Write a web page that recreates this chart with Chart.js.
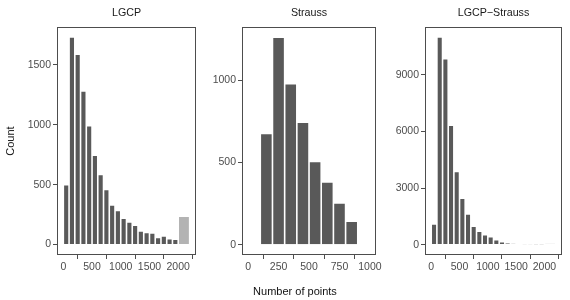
<!DOCTYPE html>
<html><head><meta charset="utf-8">
<script src="https://cdn.jsdelivr.net/npm/chart.js@4/dist/chart.umd.min.js"></script>
<style>
html,body{margin:0;padding:0;background:#fff}
body{width:570px;height:300px;position:relative;overflow:hidden;font-family:"Liberation Sans",Arial,sans-serif}
canvas{position:absolute;top:0}
.lab{position:absolute;font-size:11px;font-weight:400;color:#111;white-space:nowrap;line-height:12px;height:12px;text-align:center}
</style></head><body>
<canvas id="c1" width="200" height="300" style="left:0px"></canvas>
<canvas id="c2" width="184" height="300" style="left:200px"></canvas>
<canvas id="c3" width="186" height="300" style="left:384px"></canvas>
<div class="lab" id="xlab" style="left:235px;top:285px;width:120px">Number of points</div>
<div class="lab" id="ylab" style="left:-20px;top:135px;width:60px;transform:rotate(-90deg)">Count</div>
<script>
// ---- data ----
const panelTitles = ["LGCP", "Strauss", "LGCP\u2212Strauss"];

// bin centres (bin width 100)
const lgcpBins = [50,150,250,350,450,550,650,750,850,950,1050,1150,1250,1350,1450,1550,1650,1750,1850,1950];
const lgcpCounts = [500,1733,1589,1283,992,747,586,461,330,286,220,189,161,114,102,98,59,72,50,45];
const lgcpOverflowBin = [2100];     // 2000+ bin
const lgcpOverflowCount = [238];

const straussBins = [150,250,350,450,550,650,750,850];
const straussCounts = [677,1262,979,745,506,382,253,143];

const lsBins = [50,150,250,350,450,550,650,750,850,950,1050,1150,1250,1350,1450,1550,1650,1750,1850,1950];
const lsCounts = [1096,11011,9867,6337,3886,2456,1625,974,709,529,424,265,159,95,55,35,22,14,9,6];
const lsOverflowBin = [2100];
const lsOverflowCount = [60];

const xTicksWide = [0,500,1000,1500,2000];
const xTicksStrauss = [0,250,500,750,1000];
const yTicksLgcp = [0,500,1000,1500];
const yTicksStrauss = [0,500,1000];
const yTicksLs = [0,3000,6000,9000];

// ---- drawing ----
const DARK = '#595959', LIGHT = '#b3b3b3', AXIS = '#4d4d4d', TXT = '#4d4d4d';
const FONT = '"Liberation Sans", Arial, sans-serif';

const boxPlugin = {
  id: 'box',
  afterDraw(chart) {
    const {ctx, chartArea: a} = chart;
    ctx.save();
    ctx.strokeStyle = AXIS;
    ctx.lineWidth = 1;
    ctx.strokeRect(Math.round(a.left) + 0.5, Math.round(a.top) + 0.5,
                   Math.round(a.right - a.left) - 1, Math.round(a.bottom - a.top) - 1);
    ctx.restore();
  }
};

function pts(xs, ys) { return xs.map((x, i) => ({x: x, y: ys[i]})); }

function makePanel(id, title, bins, counts, oBins, oCounts, xMin, xMax, yMin, yMax, xTicks, yTicks, yW, padR) {
  const datasets = [{
    data: pts(bins, counts),
    backgroundColor: DARK,
    borderColor: '#ffffff',
    borderWidth: 0.8,
    borderSkipped: 'start',
    barPercentage: 1,
    categoryPercentage: 1,
    inflateAmount: 0,
    grouped: false
  }];
  if (oBins) {
    datasets.push({
      data: pts(oBins, oCounts),
      backgroundColor: LIGHT,
      borderColor: '#ffffff',
      borderWidth: 0.8,
      borderSkipped: 'start',
      barPercentage: 2,
      categoryPercentage: 1,
      inflateAmount: 0,
      grouped: false
    });
  }
  const tickSet = arr => (s => { s.ticks = arr.map(v => ({value: v})); });
  const plain = v => String(v);
  return new Chart(document.getElementById(id), {
    type: 'bar',
    data: {datasets},
    plugins: [boxPlugin],
    options: {
      responsive: false,
      animation: false,
      devicePixelRatio: 1,
      layout: {padding: {left: 0, right: padR, top: 0, bottom: 0}},
      plugins: {
        legend: {display: false},
        tooltip: {enabled: false},
        title: {
          display: true, text: title, color: '#1a1a1a', fullSize: false,
          font: {family: FONT, size: 10.7, weight: 'normal'},
          padding: {top: 6.5, bottom: 7.3}
        }
      },
      scales: {
        x: {
          type: 'linear', min: xMin, max: xMax, offset: false,
          afterBuildTicks: tickSet(xTicks),
          afterFit: s => { s.height = 45; },
          grid: {display: true, drawOnChartArea: false, drawTicks: true, tickLength: 4, color: AXIS, tickColor: AXIS, tickWidth: 1},
          border: {display: false},
          ticks: {color: TXT, font: {family: FONT, size: 10.5}, padding: 2, maxRotation: 0, autoSkip: false, callback: plain}
        },
        y: {
          type: 'linear', min: yMin, max: yMax,
          afterBuildTicks: tickSet(yTicks),
          afterFit: s => { s.width = yW; },
          grid: {display: true, drawOnChartArea: false, drawTicks: true, tickLength: 4, color: AXIS, tickColor: AXIS, tickWidth: 1},
          border: {display: false},
          ticks: {color: TXT, font: {family: FONT, size: 10.5}, padding: 2, autoSkip: false, callback: plain}
        }
      }
    }
  });
}

makePanel('c1', panelTitles[0], lgcpBins, lgcpCounts, lgcpOverflowBin, lgcpOverflowCount,
          -110, 2310, -87, 1820, xTicksWide, yTicksLgcp, 57, 4);
makePanel('c2', panelTitles[1], straussBins, straussCounts, null, null,
          -50, 1050, -63, 1326, xTicksStrauss, yTicksStrauss, 42, 4);
makePanel('c3', panelTitles[2], lsBins, lsCounts, lsOverflowBin, lsOverflowCount,
          -110, 2310, -551, 11562, xTicksWide, yTicksLs, 41, 8);
</script>
</body></html>
